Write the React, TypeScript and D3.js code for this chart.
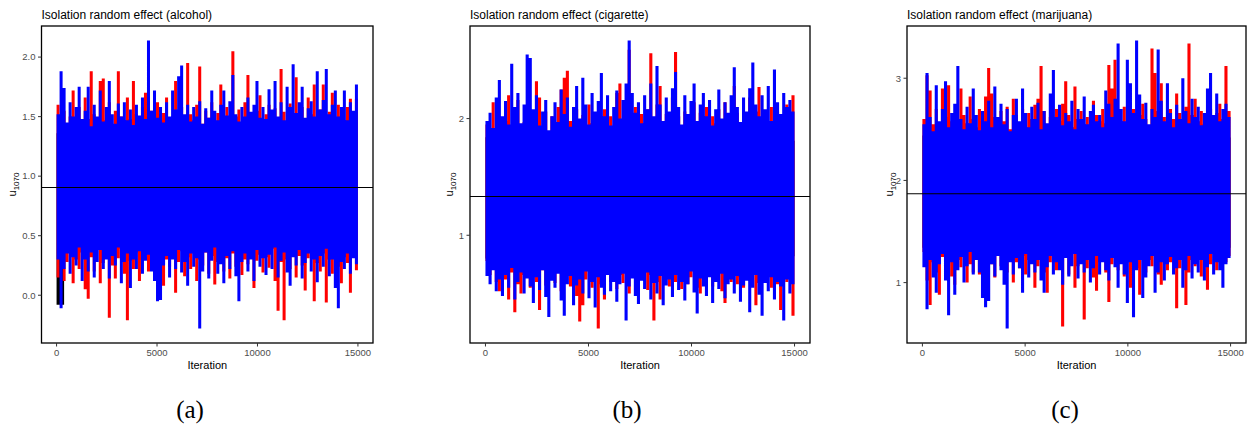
import React from "react";
import * as d3 from "d3";

// iterations per chain and x axis ticks
const nIter = 15000;
const iterTicks = [0, 5000, 10000, 15000];

// per-bin extremes (high / low) of each chain
// --- alcohol
const alcBlueHi = [1.52, 1.88, 1.74, 1.45, 1.62, 1.5, 1.58, 1.75, 1.48, 1.55, 1.75, 1.42, 1.6, 1.5, 1.72, 1.46, 1.58, 1.8, 1.52, 1.44, 1.61, 1.5, 1.62, 1.47, 1.56, 1.43, 1.6, 1.51, 1.66, 1.48, 2.14, 1.55, 1.72, 1.49, 1.58, 1.45, 1.62, 1.5, 1.72, 1.56, 1.84, 1.93, 1.52, 1.6, 1.46, 1.58, 1.5, 1.63, 1.44, 1.57, 1.49, 1.72, 1.55, 1.47, 1.6, 1.72, 1.51, 1.63, 1.85, 1.52, 1.46, 1.58, 1.5, 1.66, 1.54, 1.6, 1.8, 1.49, 1.58, 1.48, 1.73, 1.56, 1.8, 1.5, 1.62, 1.47, 1.75, 1.58, 1.94, 1.53, 1.62, 1.75, 1.49, 1.57, 1.63, 1.5, 1.88, 1.56, 1.64, 1.9, 1.52, 1.6, 1.72, 1.5, 1.58, 1.72, 1.47, 1.62, 1.55, 1.77];
const alcBlueLo = [0.3, -0.11, 0.22, 0.35, 0.18, 0.32, 0.25, 0.4, 0.12, 0.3, 0.2, 0.36, 0.15, 0.28, 0.38, 0.22, 0.3, 0.14, 0.33, 0.25, 0.4, 0.1, 0.28, 0.35, 0.06, 0.3, 0.22, 0.37, 0.18, 0.29, 0.34, 0.2, 0.12, -0.05, -0.04, 0.25, 0.33, 0.15, 0.3, 0.22, 0.38, 0.19, 0.28, 0.08, 0.35, 0.24, 0.31, -0.28, 0.2, 0.36, 0.14, 0.29, 0.4, 0.18, 0.26, 0.1, 0.33, 0.22, 0.37, 0.16, -0.05, 0.28, 0.35, 0.2, 0.3, 0.12, 0.38, 0.24, 0.31, 0.17, 0.34, 0.22, 0.4, 0.15, 0.29, 0.36, 0.19, 0.08, 0.32, 0.25, 0.38, 0.14, 0.27, 0.35, 0.2, 0.3, 0.11, 0.33, 0.24, 0.39, 0.16, 0.3, 0.06, -0.11, 0.28, 0.22, 0.35, 0.18, 0.31, 0.26];
const alcRedHi = [1.6, 1.42, 1.55, 1.38, 1.5, 1.72, 1.45, 1.58, 1.4, 1.66, 1.48, 1.88, 1.52, 1.44, 1.8, 1.82, 1.47, 1.62, 1.4, 1.55, 1.88, 1.5, 1.43, 1.66, 1.48, 1.8, 1.52, 1.4, 1.58, 1.7, 1.45, 1.55, 1.38, 1.62, 1.47, 1.53, 1.66, 1.42, 1.5, 1.8, 1.46, 1.58, 1.41, 1.95, 1.52, 1.47, 1.6, 1.92, 1.44, 1.55, 1.49, 1.62, 1.4, 1.53, 1.77, 1.46, 1.58, 1.42, 2.05, 1.5, 1.56, 1.44, 1.62, 1.85, 1.48, 1.4, 1.55, 1.68, 1.45, 1.52, 1.6, 1.42, 1.57, 1.49, 1.9, 1.54, 1.43, 1.61, 1.47, 1.83, 1.5, 1.58, 1.41, 1.66, 1.52, 1.77, 1.45, 1.56, 1.77, 1.48, 1.54, 1.7, 1.43, 1.6, 1.5, 1.46, 1.58, 1.65, 1.52, 1.65];
const alcRedLo = [0.15, 0.35, 0.12, 0.28, 0.4, 0.1, 0.3, 0.22, 0.36, 0.05, -0.03, 0.32, 0.2, 0.38, 0.1, 0.27, 0.34, -0.19, 0.25, 0.14, 0.31, 0.39, 0.18, -0.21, 0.29, 0.22, 0.36, 0.12, 0.3, 0.4, 0.2, 0.33, 0.15, 0.27, 0.38, 0.08, 0.3, 0.24, 0.35, 0.02, 0.28, 0.37, 0.16, 0.32, 0.22, 0.4, 0.12, 0.3, 0.25, 0.36, 0.18, 0.33, 0.09, 0.28, 0.38, 0.2, 0.31, 0.14, 0.35, 0.24, 0.4, 0.17, 0.3, 0.26, 0.37, 0.06, 0.29, 0.34, 0.19, 0.32, 0.23, 0.39, 0.12, -0.13, 0.28, -0.21, 0.3, 0.22, 0.36, 0.15, 0.33, 0.25, 0.04, 0.31, 0.38, -0.05, 0.27, 0.2, 0.35, -0.06, 0.3, 0.18, 0.37, 0.24, 0.1, 0.32, 0.27, 0.02, 0.34, 0.21];
const alcBlackHi = [1.36, 1.35, 1.37, 1.3, 1.36, 1.34, 1.33, 1.36, 1.35, 1.37, 1.32, 1.36, 1.34, 1.36, 1.33, 1.37, 1.31, 1.35, 1.36, 1.34, 1.37, 1.3, 1.35, 1.36, 1.33, 1.37, 1.34, 1.36, 1.32, 1.37, 1.35, 1.36, 1.33, 1.35, 1.37, 1.31, 1.36, 1.34, 1.37, 1.35];
const alcBlackLo = [-0.08, 0.42, 0.45, 0.45, 0.44, 0.42, 0.44, 0.44, 0.46, 0.41, 0.45, 0.46, 0.44, 0.43, 0.47, 0.42, 0.45, 0.45, 0.44, 0.42, 0.45, 0.44, 0.42, 0.46, 0.43, 0.45, 0.46, 0.44, 0.41, 0.44, 0.44, 0.45, 0.42, 0.45, 0.45, 0.42, 0.45, 0.43, 0.45, 0.41];

// --- cigarette
const cigBlueHi = [1.98, 2.05, 1.92, 2.18, 2.33, 2.02, 2.15, 1.95, 2.47, 2.1, 2.22, 1.96, 2.12, 2.55, 2.52, 2.08, 2.2, 1.94, 2.06, 2.16, 1.9, 2.02, 2.14, 1.97, 2.25, 2.04, 2.18, 1.93, 2.1, 2.28, 2.0, 2.35, 2.12, 1.95, 2.22, 2.06, 2.15, 2.39, 2.02, 2.2, 1.94, 2.1, 2.24, 2.0, 2.16, 2.3, 2.67, 2.22, 2.05, 2.14, 1.96, 2.2, 2.08, 2.3, 2.02, 2.45, 2.12, 1.98, 2.18, 2.06, 2.26, 2.4, 2.1, 1.95, 2.2, 2.04, 2.15, 2.3, 1.98, 2.12, 2.22, 2.02, 2.16, 1.94, 2.08, 2.25, 2.0, 2.14, 2.05, 2.2, 2.44, 2.1, 1.97, 2.18, 2.06, 2.26, 2.48, 2.12, 2.02, 2.2, 2.08, 2.28, 1.98, 2.42, 2.14, 2.04, 2.22, 2.1, 2.16, 2.06];
const cigBlueLo = [0.65, 0.58, 0.7, 0.52, 0.62, 0.48, 0.66, 0.55, 0.72, 0.45, 0.6, 0.68, 0.5, 0.63, 0.56, 0.42, 0.64, 0.53, 0.7, 0.47, 0.3, 0.61, 0.55, 0.67, 0.44, 0.31, 0.58, 0.65, 0.4, 0.57, 0.62, 0.5, 0.69, 0.46, 0.6, 0.38, 0.64, 0.55, 0.49, 0.66, 0.52, 0.6, 0.43, 0.58, 0.67, 0.27, 0.56, 0.63, 0.48, 0.41, 0.61, 0.54, 0.68, 0.45, 0.59, 0.5, 0.65, 0.4, 0.57, 0.62, 0.47, 0.66, 0.53, 0.6, 0.44, 0.58, 0.69, 0.51, 0.33, 0.63, 0.56, 0.48, 0.64, 0.42, 0.6, 0.54, 0.67, 0.46, 0.58, 0.62, 0.5, 0.65, 0.43, 0.57, 0.61, 0.34, 0.55, 0.66, 0.49, 0.31, 0.59, 0.52, 0.64, 0.45, 0.6, 0.56, 0.27, 0.62, 0.5, 0.58];
const cigRedHi = [1.95, 1.88, 2.14, 1.92, 2.02, 1.85, 1.98, 2.2, 1.9, 2.04, 2.16, 1.86, 1.97, 2.05, 1.9, 2.0, 2.32, 2.18, 1.93, 2.06, 1.88, 2.02, 1.95, 2.1, 2.25, 2.35, 2.41, 1.98, 1.9, 2.08, 1.94, 2.03, 1.87, 2.12, 1.96, 2.05, 1.91, 2.0, 2.08, 1.93, 2.02, 1.88, 2.22, 2.3, 1.97, 2.06, 2.59, 1.95, 2.1, 1.9, 2.04, 1.94, 2.08, 2.56, 1.98, 2.12, 2.28, 1.92, 2.04, 1.96, 2.18, 2.57, 2.02, 1.9, 2.06, 1.95, 2.0, 2.14, 1.92, 2.05, 1.97, 2.1, 1.89, 2.02, 1.96, 2.08, 1.91, 2.14, 2.0, 1.94, 2.28, 2.05, 1.93, 2.02, 1.97, 2.18, 1.9, 2.06, 2.27, 1.95, 2.03, 1.92, 2.1, 1.98, 2.06, 1.94, 2.02, 2.12, 1.96, 2.2];
const cigRedLo = [0.78, 0.66, 0.72, 0.6, 0.52, 0.7, 0.62, 0.45, 0.68, 0.34, 0.58, 0.5, 0.66, 0.72, 0.55, 0.64, 0.6, 0.36, 0.7, 0.57, 0.65, 0.74, 0.59, 0.68, 0.52, 0.63, 0.7, 0.56, 0.66, 0.48, 0.26, 0.4, 0.62, 0.7, 0.55, 0.65, 0.2, 0.58, 0.45, 0.68, 0.6, 0.72, 0.54, 0.66, 0.59, 0.7, 0.5, 0.64, 0.73, 0.57, 0.62, 0.68, 0.53, 0.66, 0.27, 0.6, 0.45, 0.7, 0.63, 0.56, 0.72, 0.6, 0.66, 0.54, 0.69, 0.58, 0.64, 0.71, 0.55, 0.5, 0.67, 0.6, 0.73, 0.56, 0.63, 0.69, 0.52, 0.42, 0.66, 0.6, 0.7, 0.58, 0.64, 0.55, 0.68, 0.61, 0.72, 0.4, 0.59, 0.66, 0.62, 0.7, 0.55, 0.64, 0.58, 0.36, 0.67, 0.6, 0.65, 0.31];
const cigBlackHi = [1.84, 1.82, 1.84, 1.8, 1.83, 1.82, 1.84, 1.8, 1.83, 1.84, 1.81, 1.83, 1.84, 1.82, 1.8, 1.84, 1.82, 1.83, 1.81, 1.84, 1.8, 1.83, 1.82, 1.84, 1.81, 1.83, 1.84, 1.82, 1.83, 1.81];
const cigBlackLo = [0.8, 0.8, 0.81, 0.8, 0.82, 0.8, 0.81, 0.8, 0.82, 0.81, 0.8, 0.82, 0.8, 0.81, 0.8, 0.82, 0.81, 0.8, 0.82, 0.8, 0.81, 0.8, 0.82, 0.81, 0.8, 0.82, 0.8, 0.81, 0.8, 0.82];

// --- marijuana
const marBlueHi = [2.55, 3.05, 2.62, 2.48, 2.93, 2.58, 2.7, 2.97, 2.52, 2.66, 2.75, 3.12, 2.6, 2.5, 2.72, 2.56, 2.9, 2.64, 2.49, 2.68, 2.58, 2.78, 2.52, 2.92, 2.62, 2.75, 2.55, 2.7, 2.48, 2.64, 2.8, 2.58, 2.9, 2.66, 2.52, 2.72, 2.6, 2.76, 2.5, 2.68, 2.56, 2.85, 3.08, 2.62, 2.74, 2.54, 2.66, 2.58, 2.78, 2.5, 2.7, 2.6, 2.82, 2.55, 2.68, 2.74, 2.58, 2.64, 2.52, 2.88, 2.75, 2.62, 2.8, 3.34, 2.7, 2.58, 3.18, 2.95, 2.66, 3.37, 2.84, 2.6, 2.76, 2.55, 2.7, 2.62, 3.28, 2.78, 2.58, 2.95, 2.66, 2.52, 2.74, 2.6, 3.0, 2.68, 2.56, 2.8, 2.62, 2.72, 2.54, 2.66, 2.9, 3.05, 2.64, 2.85, 2.58, 2.7, 2.75, 2.62];
const marBlueLo = [1.15, 0.74, 1.22, 1.05, 0.9, 1.18, 1.28, 1.02, 0.68, 1.2, 0.88, 1.12, 1.25, 1.0, 1.16, 1.3, 1.08, 1.22, 1.1, 0.85, 0.76, 0.82, 1.18, 1.06, 1.26, 1.12, 0.98, 0.55, 1.2, 1.08, 1.24, 1.14, 0.9, 1.28, 1.05, 1.18, 1.1, 1.22, 1.02, 0.9, 1.15, 1.26, 1.08, 1.2, 1.12, 0.98, 1.24, 1.06, 1.16, 1.28, 1.04, 1.18, 1.1, 1.22, 1.0, 1.14, 1.26, 1.08, 1.2, 1.12, 1.02, 1.24, 1.15, 0.95, 1.18, 1.08, 0.8, 1.2, 0.66, 1.12, 1.22, 0.85, 1.05, 1.16, 1.26, 0.9, 1.1, 1.2, 1.02, 1.18, 1.25, 1.08, 1.14, 1.22, 0.95, 1.12, 1.26, 1.04, 1.18, 1.1, 1.22, 1.02, 1.15, 1.28, 1.08, 1.2, 1.12, 0.95, 1.18, 1.24];
const marRedHi = [2.6, 3.03, 2.88, 2.55, 2.7, 2.48, 2.9, 2.62, 2.93, 2.58, 2.66, 2.5, 2.9, 2.64, 2.56, 2.82, 2.6, 2.52, 2.7, 2.58, 2.82, 3.1, 2.85, 2.62, 2.54, 2.68, 2.58, 2.72, 2.5, 2.8, 2.64, 2.56, 2.7, 2.52, 2.66, 2.6, 2.74, 2.8, 3.12, 2.68, 2.55, 2.62, 2.5, 2.7, 2.58, 2.75, 2.97, 2.64, 2.52, 2.92, 2.6, 2.68, 2.55, 2.62, 2.5, 2.78, 2.64, 2.58, 2.7, 2.56, 3.13, 2.9, 3.18, 2.66, 2.58, 2.72, 2.52, 2.62, 2.7, 2.56, 2.64, 2.75, 2.6, 2.54, 3.29, 3.05, 2.68, 2.95, 2.62, 2.56, 2.7, 2.6, 2.85, 2.66, 2.52, 2.72, 3.34, 2.64, 2.8, 2.58, 2.68, 2.55, 2.62, 2.7, 2.58, 2.66, 2.75, 2.6, 3.12, 2.68];
const marRedLo = [1.3, 1.02, 0.78, 1.2, 1.1, 0.88, 1.25, 1.14, 1.32, 1.06, 0.98, 1.22, 1.15, 1.28, 1.0, 1.18, 1.1, 1.3, 1.08, 1.24, 1.12, 1.26, 1.18, 1.05, 1.3, 1.16, 1.22, 1.1, 1.28, 1.0, 1.2, 1.14, 1.26, 1.08, 1.22, 1.3, 0.95, 1.16, 1.24, 1.1, 0.9, 1.2, 1.28, 1.12, 1.18, 0.57, 1.24, 1.08, 1.3, 0.95, 1.16, 1.22, 0.64, 1.14, 1.26, 1.05, 0.92, 1.2, 1.28, 1.1, 0.81, 1.18, 1.25, 1.12, 1.3, 1.06, 1.2, 0.95, 1.24, 1.14, 0.88, 1.28, 1.1, 1.22, 1.16, 1.3, 1.08, 0.98, 1.24, 1.12, 1.2, 1.26, 0.75, 1.14, 1.28, 0.78, 1.1, 1.22, 1.16, 1.3, 1.06, 1.24, 0.93, 1.18, 1.28, 1.12, 1.22, 1.3, 1.2, 1.26];
const marBlackHi = [2.44, 2.43, 2.45, 2.42, 2.44, 2.43, 2.45, 2.42, 2.44, 2.43, 2.45, 2.44, 2.42, 2.45, 2.43, 2.44, 2.42, 2.45, 2.43, 2.44, 2.42, 2.45, 2.43, 2.44, 2.42, 2.45, 2.43, 2.44, 2.45, 2.42];
const marBlackLo = [1.34, 1.35, 1.34, 1.36, 1.35, 1.34, 1.36, 1.35, 1.34, 1.36, 1.35, 1.34, 1.36, 1.35, 1.34, 1.36, 1.35, 1.34, 1.36, 1.35, 1.34, 1.36, 1.35, 1.34, 1.36, 1.35, 1.34, 1.36, 1.35, 1.34];

// posterior means (horizontal reference line)
const meanValues = [0.905, 1.332, 1.87];
const panelTitles = [
  "Isolation random effect (alcohol)",
  "Isolation random effect (cigarette)",
  "Isolation random effect (marijuana)",
];
const captions = ["(a)", "(b)", "(c)"];
const yTickSets = [
  [0, 0.5, 1, 1.5, 2],
  [1, 2],
  [1, 2, 3],
];
const chainColors = ["#000000", "#FF0000", "#0000FF"];

// chains drawn in order black, red, blue
const panelChains = [
  [[alcBlackHi, alcBlackLo], [alcRedHi, alcRedLo], [alcBlueHi, alcBlueLo]],
  [[cigBlackHi, cigBlackLo], [cigRedHi, cigRedLo], [cigBlueHi, cigBlueLo]],
  [[marBlackHi, marBlackLo], [marRedHi, marRedLo], [marBlueHi, marBlueLo]],
];

const layouts = [
  { left: 41.5, right: 373, labelX: 15.5, capX: 190, fmt: d3.format(".1f") },
  { left: 470, right: 810, labelX: 452.5, capX: 627, fmt: d3.format("d") },
  { left: 907, right: 1246, labelX: 893, capX: 1065, fmt: d3.format("d") },
];
const top = 26;
const bottom = 343;
const sans = "'Liberation Sans', Arial, sans-serif";

// each bin spans an equal slice of the iterations (min/max of the chain there)
function binRows(hi, lo) {
  const w = nIter / hi.length;
  return hi.flatMap((h, i) => [
    { it: i * w, hi: h, lo: lo[i] },
    { it: (i + 1) * w, hi: h, lo: lo[i] },
  ]);
}

function TracePanel({ idx }) {
  const lay = layouts[idx];
  const chains = panelChains[idx];
  const all = chains.flatMap(([h, l]) => [...h, ...l]);
  const lo = d3.min(all);
  const hi = d3.max(all);
  const pad = (hi - lo) * 0.05;

  const x = d3
    .scaleLinear()
    .domain([-nIter * 0.05, nIter * 1.05])
    .range([lay.left, lay.right]);
  const y = d3
    .scaleLinear()
    .domain([lo - pad, hi + pad])
    .range([bottom, top]);

  const area = d3
    .area()
    .x((d) => x(d.it))
    .y0((d) => y(d.lo))
    .y1((d) => y(d.hi));

  const midY = (top + bottom) / 2;

  return (
    <g>
      <text x={lay.left} y={19} fontSize={12} fontFamily={sans} fill="#000">
        {panelTitles[idx]}
      </text>
      {chains.map(([h, l], ci) => (
        <path key={ci} d={area(binRows(h, l))} fill={chainColors[ci]} stroke="none" />
      ))}
      <line
        x1={lay.left}
        x2={lay.right}
        y1={y(meanValues[idx])}
        y2={y(meanValues[idx])}
        stroke="#000"
        strokeWidth={1.1}
      />
      <rect
        x={lay.left}
        y={top}
        width={lay.right - lay.left}
        height={bottom - top}
        fill="none"
        stroke="#000"
        strokeWidth={1.3}
      />
      {yTickSets[idx].map((t) => (
        <g key={t}>
          <line x1={lay.left - 3.5} x2={lay.left} y1={y(t)} y2={y(t)} stroke="#333" />
          <text
            x={lay.left - 6}
            y={y(t)}
            dy="0.35em"
            textAnchor="end"
            fontSize={9.5}
            fontFamily={sans}
            fill="#4D4D4D"
          >
            {lay.fmt(t)}
          </text>
        </g>
      ))}
      {iterTicks.map((t) => (
        <g key={t}>
          <line x1={x(t)} x2={x(t)} y1={bottom} y2={bottom + 3.5} stroke="#333" />
          <text
            x={x(t)}
            y={356}
            textAnchor="middle"
            fontSize={9.5}
            fontFamily={sans}
            fill="#4D4D4D"
          >
            {t}
          </text>
        </g>
      ))}
      <text
        x={(lay.left + lay.right) / 2}
        y={369}
        textAnchor="middle"
        fontSize={11}
        fontFamily={sans}
      >
        Iteration
      </text>
      <text
        transform={`translate(${lay.labelX},${midY}) rotate(-90)`}
        textAnchor="middle"
        fontSize={11}
        fontFamily={sans}
      >
        u
        <tspan dy={3} fontSize={8}>
          1070
        </tspan>
      </text>
      <text
        x={lay.capX}
        y={418}
        textAnchor="middle"
        fontSize={25}
        fontFamily="'Liberation Serif', 'DejaVu Serif', serif"
      >
        {captions[idx]}
      </text>
    </g>
  );
}

export default function App() {
  return (
    <svg
      width={1247}
      height={427}
      style={{ position: "absolute", left: 0, top: 0, background: "#fff" }}
    >
      {[0, 1, 2].map((i) => (
        <TracePanel key={i} idx={i} />
      ))}
    </svg>
  );
}
